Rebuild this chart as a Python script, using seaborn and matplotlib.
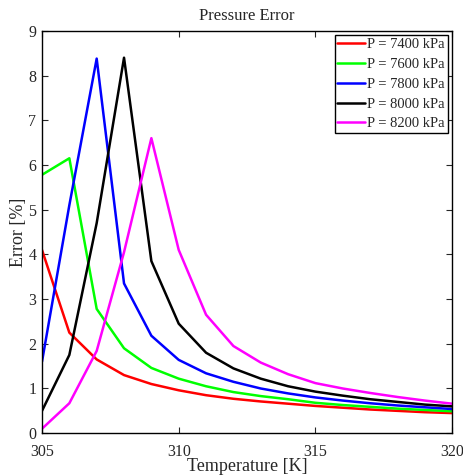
import matplotlib
matplotlib.use("Agg")
import matplotlib.pyplot as plt
import pandas as pd
import seaborn as sns

temperature = list(range(305, 321))
err_7400 = [4.1, 2.25, 1.65, 1.3, 1.1, 0.96, 0.85, 0.77, 0.71, 0.66, 0.61, 0.57, 0.53, 0.5, 0.47, 0.45]
err_7600 = [5.78, 6.15, 2.78, 1.9, 1.46, 1.22, 1.05, 0.92, 0.83, 0.76, 0.68, 0.63, 0.59, 0.55, 0.52, 0.49]
err_7800 = [1.6, 5.1, 8.38, 3.35, 2.18, 1.64, 1.34, 1.15, 1.0, 0.89, 0.8, 0.73, 0.67, 0.62, 0.58, 0.54]
err_8000 = [0.5, 1.75, 4.7, 8.4, 3.85, 2.45, 1.8, 1.45, 1.22, 1.05, 0.93, 0.84, 0.76, 0.7, 0.64, 0.6]
err_8200 = [0.1, 0.67, 1.84, 4.05, 6.6, 4.1, 2.65, 1.95, 1.58, 1.32, 1.12, 1.0, 0.9, 0.81, 0.73, 0.66]

labels = ["P = 7400 kPa", "P = 7600 kPa", "P = 7800 kPa", "P = 8000 kPa", "P = 8200 kPa"]
colors = ["#ff0000", "#00ff00", "#0000ff", "#000000", "#ff00ff"]
series = [err_7400, err_7600, err_7800, err_8000, err_8200]

frames = []
for lab, vals in zip(labels, series):
    frames.append(pd.DataFrame({"T": temperature, "err": vals, "P": lab}))
df = pd.concat(frames, ignore_index=True)

sns.set_style("ticks")
plt.rcParams["font.family"] = ["Liberation Serif", "DejaVu Serif"]

fig = plt.figure(figsize=(4.64, 4.75), dpi=100)
ax = fig.add_axes([0.0905, 0.088, 0.884, 0.847])

sns.lineplot(data=df, x="T", y="err", hue="P", hue_order=labels,
             palette=colors, linewidth=1.8, ax=ax)

ax.set_xlim(305, 320)
ax.set_ylim(0, 9)
ax.set_xticks([305, 310, 315, 320])
ax.set_yticks(range(0, 10))
ax.tick_params(direction="in", top=True, right=True, labelsize=11.5, length=4, width=0.8)
ax.tick_params(axis="x", pad=8)
ax.tick_params(axis="y", pad=4)
for s in ax.spines.values():
    s.set_linewidth(1.0)
    s.set_color("black")
ax.set_xlabel("Temperature [K]", fontsize=13, labelpad=-2)
ax.set_ylabel("Error [%]", fontsize=13, labelpad=1)
ax.set_title("Pressure Error", fontsize=12, pad=8)

leg = ax.legend(loc="upper right", fontsize=10.5, frameon=True, fancybox=False,
                borderaxespad=0.3, handlelength=1.9, handletextpad=0.15,
                labelspacing=0.45, borderpad=0.2)
leg.get_frame().set_edgecolor("black")
leg.get_frame().set_linewidth(1.0)
leg.get_frame().set_alpha(1)

fig.savefig("out.png", dpi=100)
